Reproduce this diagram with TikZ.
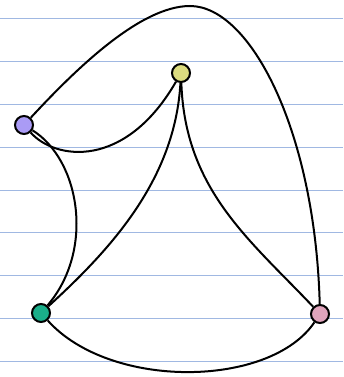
\documentclass[tikz,border=0pt]{standalone}
\begin{document}
\begin{tikzpicture}[x=1pt, y=-1pt, line width=2pt,
		vert/.style={circle, draw=black, line width=2pt, inner sep=0pt, minimum size=18pt}]
		\definecolor{rulecol}{RGB}{160, 184, 226}
		\definecolor{lilac}{RGB}{170, 155, 245}
		\definecolor{straw}{RGB}{220, 220, 128}
		\definecolor{teal}{RGB}{26, 174, 138}
		\definecolor{rosy}{RGB}{224, 164, 188}
		\useasboundingbox (0,0) rectangle (343,377);
		
		% 横线
		\foreach \y in {18.5,61.5,104.5,147.5,190.5,232.5,275.5,318.5,361.5}
			\draw[rulecol, line width=1.6pt] (0,\y) -- (343,\y);
		
		% 顶点
		\node[vert, fill=lilac] (a) at (24,125) {};
		\node[vert, fill=straw] (b) at (181,73) {};
		\node[vert, fill=teal] (c) at (41,313) {};
		\node[vert, fill=rosy] (d) at (320,314) {};
		\coordinate (apex) at (190,6);
		
		% 边
		\draw (a) .. controls (75,70) and (140,6) .. (apex)
			.. controls (250,6) and (315,130) .. (d);
		\draw (a) .. controls (55,160) and (125,170) .. (b);
		\draw (a) .. controls (80,160) and (95,250) .. (c);
		\draw (b) .. controls (175,180) and (110,250) .. (c);
		\draw (b) .. controls (185,190) and (250,240) .. (d);
		\draw (c) .. controls (110,390) and (270,388) .. (d);
		\end{tikzpicture}
\end{document}
